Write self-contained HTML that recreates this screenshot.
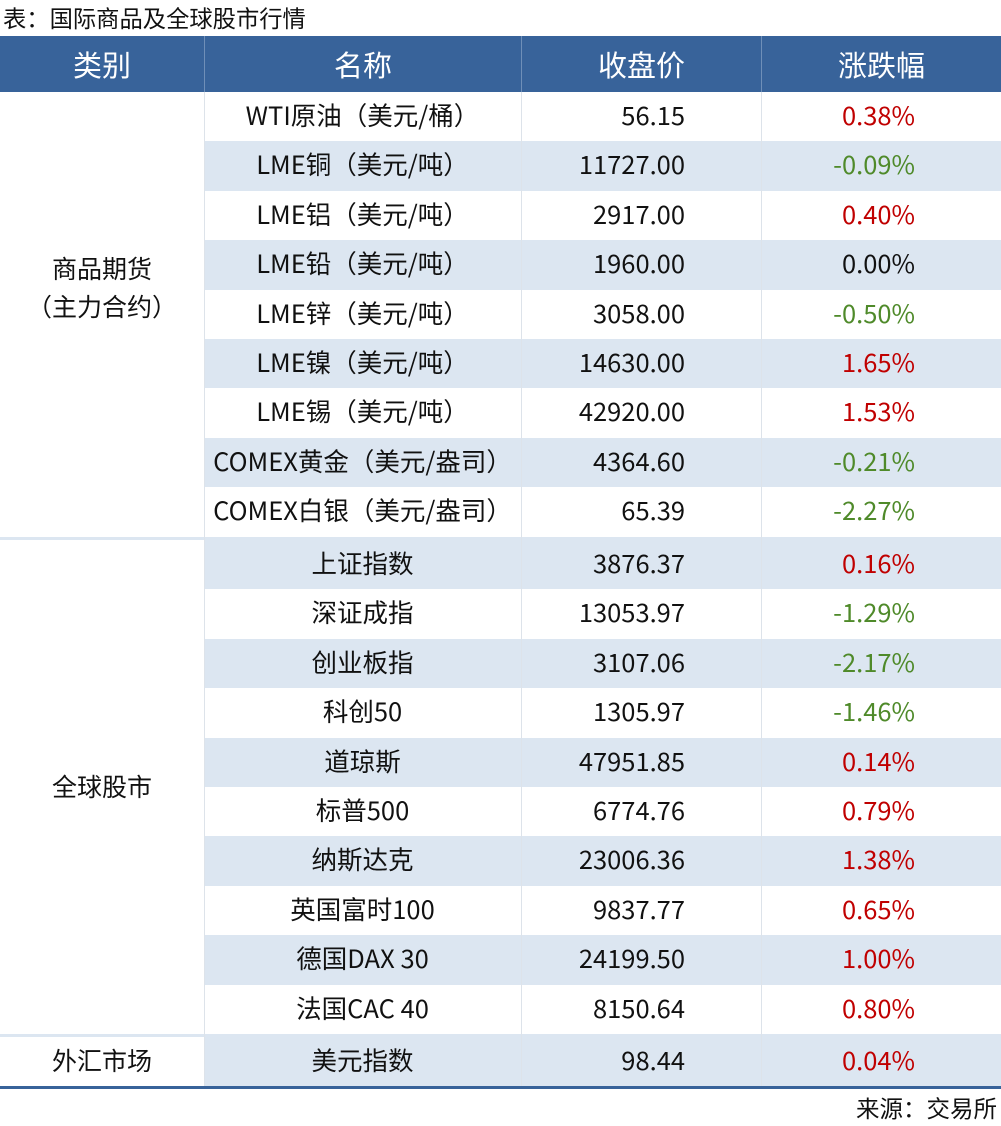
<!DOCTYPE html>
<html><head><meta charset="utf-8"><style>
body{margin:0;width:1001px;height:1126px;background:#fff;position:relative;overflow:hidden;font-family:"Noto Sans CJK SC","Liberation Sans",sans-serif;color:#111}
div{position:absolute;box-sizing:border-box}
.t{top:0;font-size:23.3px;line-height:34px;left:3px}
.hd{top:36px;height:56px;background:#38639a;color:#fff;font-size:29px;line-height:56px;text-align:center}
.r{left:204px;width:797px;height:49.4px;font-size:25.5px}
.b{background:#dce6f1}
.r span{position:absolute;top:-2px;line-height:49px}
.n{left:0;width:317px;text-align:center}
.p{right:316px;text-align:right}
.c{right:86px;text-align:right}
.up{color:#c00000}.dn{color:#4f8a2a}
.vl{width:1px;background:#dde3ea}
.cat{left:0;width:204px;text-align:center;font-size:25px;line-height:38px}
</style></head><body>
<div class="t">表：国际商品及全球股市行情</div>
<div class="hd" style="left:0;width:204px">类别</div>
<div class="hd" style="left:205px;width:316px">名称</div>
<div class="hd" style="left:522px;width:239px">收盘价</div>
<div class="hd" style="left:762px;width:239px">涨跌幅</div>

<div class="r" style="top:92px"><span class="n">WTI原油（美元/桶）</span><span class="p">56.15</span><span class="c up">0.38%</span></div>
<div class="r b" style="top:141.4px"><span class="n">LME铜（美元/吨）</span><span class="p">11727.00</span><span class="c dn">-0.09%</span></div>
<div class="r" style="top:190.8px"><span class="n">LME铝（美元/吨）</span><span class="p">2917.00</span><span class="c up">0.40%</span></div>
<div class="r b" style="top:240.2px"><span class="n">LME铅（美元/吨）</span><span class="p">1960.00</span><span class="c">0.00%</span></div>
<div class="r" style="top:289.6px"><span class="n">LME锌（美元/吨）</span><span class="p">3058.00</span><span class="c dn">-0.50%</span></div>
<div class="r b" style="top:339px"><span class="n">LME镍（美元/吨）</span><span class="p">14630.00</span><span class="c up">1.65%</span></div>
<div class="r" style="top:388.4px"><span class="n">LME锡（美元/吨）</span><span class="p">42920.00</span><span class="c up">1.53%</span></div>
<div class="r b" style="top:437.8px"><span class="n">COMEX黄金（美元/盎司）</span><span class="p">4364.60</span><span class="c dn">-0.21%</span></div>
<div class="r" style="top:487.2px"><span class="n">COMEX白银（美元/盎司）</span><span class="p">65.39</span><span class="c dn">-2.27%</span></div>
<div style="left:0;top:537px;width:1001px;height:3px;background:#dce6f1"></div>

<div class="r b" style="top:540px"><span class="n">上证指数</span><span class="p">3876.37</span><span class="c up">0.16%</span></div>
<div class="r" style="top:589.4px"><span class="n">深证成指</span><span class="p">13053.97</span><span class="c dn">-1.29%</span></div>
<div class="r b" style="top:638.8px"><span class="n">创业板指</span><span class="p">3107.06</span><span class="c dn">-2.17%</span></div>
<div class="r" style="top:688.2px"><span class="n">科创50</span><span class="p">1305.97</span><span class="c dn">-1.46%</span></div>
<div class="r b" style="top:737.6px"><span class="n">道琼斯</span><span class="p">47951.85</span><span class="c up">0.14%</span></div>
<div class="r" style="top:787px"><span class="n">标普500</span><span class="p">6774.76</span><span class="c up">0.79%</span></div>
<div class="r b" style="top:836.4px"><span class="n">纳斯达克</span><span class="p">23006.36</span><span class="c up">1.38%</span></div>
<div class="r" style="top:885.8px"><span class="n">英国富时100</span><span class="p">9837.77</span><span class="c up">0.65%</span></div>
<div class="r b" style="top:935.2px"><span class="n">德国DAX 30</span><span class="p">24199.50</span><span class="c up">1.00%</span></div>
<div class="r" style="top:984.6px"><span class="n">法国CAC 40</span><span class="p">8150.64</span><span class="c up">0.80%</span></div>
<div style="left:0;top:1034px;width:1001px;height:3px;background:#dce6f1"></div>

<div class="r b" style="top:1037px"><span class="n">美元指数</span><span class="p">98.44</span><span class="c up">0.04%</span></div>
<div style="left:0;top:1086px;width:1001px;height:3px;background:#38639a"></div>

<div class="vl" style="left:204px;top:92px;height:994px"></div>
<div class="vl" style="left:521px;top:92px;height:994px"></div>
<div class="vl" style="left:761px;top:92px;height:994px"></div>
<div class="vl" style="left:204px;top:36px;height:56px;background:#6f8fb8"></div>
<div class="vl" style="left:521px;top:36px;height:56px;background:#6f8fb8"></div>
<div class="vl" style="left:761px;top:36px;height:56px;background:#6f8fb8"></div>

<div class="cat" style="top:249px">商品期货<br>（主力合约）</div>
<div class="cat" style="top:767px">全球股市</div>
<div class="cat" style="top:1041px">外汇市场</div>
<div style="right:4px;top:1090px;font-size:23.5px;line-height:34px">来源：交易所</div>
</body></html>
